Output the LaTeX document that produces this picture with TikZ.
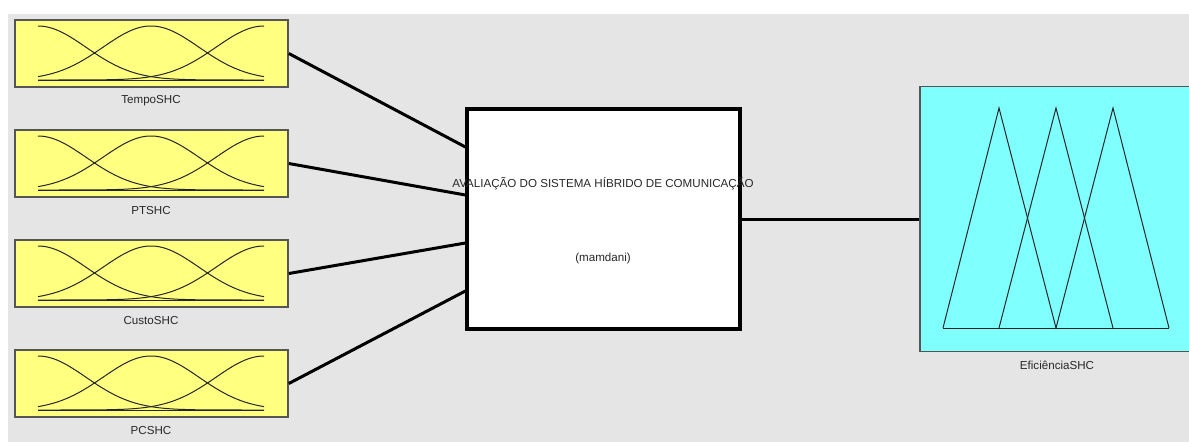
\documentclass[tikz,border=0pt]{standalone}
\usepackage{fontspec}
\setmainfont{Liberation Sans}
\definecolor{bggray}{RGB}{229,229,229}
\definecolor{mfyellow}{RGB}{255,255,128}
\definecolor{mfcyan}{RGB}{128,255,255}
\definecolor{edgegray}{RGB}{85,85,85}
\definecolor{txtgray}{RGB}{40,40,40}
\tikzset{
  inbox/.style={draw=edgegray, line width=1.6pt, fill=mfyellow, minimum width=273pt, minimum height=67pt, inner sep=0pt},
  outbox/.style={draw=edgegray, line width=1.6pt, fill=mfcyan, minimum width=274pt, minimum height=265pt, inner sep=0pt},
  rulebox/.style={draw=black, line width=3.2pt, fill=white, minimum width=273pt, minimum height=220pt, inner sep=0pt},
  lbl/.style={text=txtgray, font=\fontsize{11.6}{13}\selectfont, inner sep=0pt},
  conn/.style={line width=3pt, black},
  mf/.style={line width=1pt, black!85},
}
\begin{document}
\begin{tikzpicture}[x=1pt,y=-1pt]
\clip (0,0) rectangle (1189,442);
\fill[white] (0,0) rectangle (1189,442);
\fill[bggray] (8,14) rectangle (1189,442);
% input boxes
\foreach \n/\t/\name in {1/20/TempoSHC,2/130/PTSHC,3/240/CustoSHC,4/350/PCSHC}{
  \node[inbox] (in\n) at (151.5,\t+33.5) {};
  \node[lbl] (lab\n) at (151,\t+81) {\name};
  \draw[mf] (38,\t+60) -- (264,\t+60);
  \draw[mf] plot[domain=38:264,samples=80,smooth] (\x,{\t+60-54*exp(-0.5*((\x-38)/48)^2)});
  \draw[mf] plot[domain=38:264,samples=80,smooth] (\x,{\t+60-54*exp(-0.5*((\x-151)/48)^2)});
  \draw[mf] plot[domain=38:264,samples=80,smooth] (\x,{\t+60-54*exp(-0.5*((\x-264)/48)^2)});
}
% rule box
\node[rulebox] (cen) at (603.5,219) {};
\node[lbl] (meth) at (603,258) {(mamdani)};
% output box
\node[outbox] (out) at (1057,219) {};
\node[lbl] (labout) at (1057,365) {EficiênciaSHC};
\draw[mf] (943,328) -- (1169,328);
\draw[mf] (943,328) -- (999,108) -- (1056,328);
\draw[mf] (999,328) -- (1056,108) -- (1113,328);
\draw[mf] (1056,328) -- (1113,108) -- (1169,328);
% connectors
\draw[conn] (in1.east) -- ([yshift=72pt]cen.west);
\draw[conn] (in2.east) -- ([yshift=24pt]cen.west);
\draw[conn] (in3.east) -- ([yshift=-24pt]cen.west);
\draw[conn] (in4.east) -- ([yshift=-72pt]cen.west);
\draw[conn] (cen.east) -- (out.west);
% title on top of box edges
\node[lbl] (title) at (603,184) {AVALIAÇÃO DO SISTEMA HÍBRIDO DE COMUNICAÇÃO};
\end{tikzpicture}
\end{document}
